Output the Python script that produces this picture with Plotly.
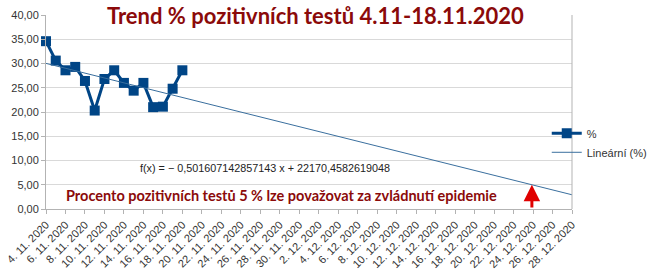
import plotly.graph_objects as go
import pandas as pd

# ---- data ----
dates = pd.date_range("2020-11-04", "2020-11-18", freq="D")
pct = [34.6, 30.6, 28.6, 29.3, 26.4, 20.3, 26.8, 28.6, 26.0, 24.4, 26.0, 21.0, 21.1, 24.8, 28.6]
trend_slope = -0.501607142857143
trend_intercept = 22170.4582619048
axis_start = "2020-11-04"
axis_end = "2020-12-28"
tick_dates = pd.date_range(axis_start, axis_end, freq="2D")
tick_text = [f"{d.day}. {d.month}. {d.year}" for d in tick_dates]
y_ticks = [0, 5, 10, 15, 20, 25, 30, 35, 40]
goal_pct = 5

title_text = "Trend % pozitivních testů 4.11-18.11.2020"
formula_text = "f(x) = − 0,501607142857143 x + 22170,4582619048"
note_text = "Procento pozitivních testů 5 % lze považovat za zvládnutí epidemie"

# trend line over whole axis (LibreOffice date serial)
trend_dates = pd.date_range(axis_start, axis_end, freq="D")
epoch = pd.Timestamp("1899-12-30")
serial = [(d - epoch).days for d in trend_dates]
trend_vals = [trend_slope * s + trend_intercept for s in serial]
goal_serial = (goal_pct - trend_intercept) / trend_slope
goal_date = epoch + pd.Timedelta(days=goal_serial)

BLUE = "#004586"
RED_TXT = "#8b0a0a"

fig = go.Figure()
fig.add_trace(go.Scatter(
    x=dates, y=pct, name="%", mode="lines+markers",
    line=dict(color=BLUE, width=3),
    marker=dict(symbol="square", size=10, color=BLUE),
    cliponaxis=False,
))
fig.add_trace(go.Scatter(
    x=trend_dates, y=trend_vals, name="Lineární (%)", mode="lines",
    line=dict(color="#3a6f9e", width=1),
))

fig.add_annotation(x=0.513, y=1.0, xref="paper", yref="paper", xanchor="center", yanchor="middle",
                   text="<b>" + title_text + "</b>", showarrow=False,
                   font=dict(family="Lato", size=22, color=RED_TXT))
fig.add_annotation(x=0.416, y=0.21, xref="paper", yref="paper", xanchor="center", yanchor="middle",
                   text=formula_text, showarrow=False,
                   font=dict(family="Liberation Sans", size=10.8, color="#222"))
fig.add_annotation(x=0.034, y=0.072, xref="paper", yref="paper", xanchor="left", yanchor="middle",
                   text="<b>" + note_text + "</b>", showarrow=False,
                   font=dict(family="Lato", size=14.5, color=RED_TXT))
fig.add_annotation(x=goal_date, y=goal_pct, ax=goal_date, ay=0, axref="x", ayref="y",
                   xref="x", yref="y", showarrow=True, arrowhead=2, arrowsize=1.1,
                   arrowwidth=3, arrowcolor="#e00000", text="")

fig.add_shape(type="line", xref="paper", yref="paper", x0=1, x1=1, y0=0, y1=1,
              line=dict(color="#b3b3b3", width=1))

fig.update_layout(
    width=650, height=276,
    margin=dict(l=46, r=78, t=15, b=67, autoexpand=False),
    paper_bgcolor="white", plot_bgcolor="white",
    separators=", ",
    showlegend=True,
    legend=dict(x=0.952, y=0.465, xanchor="left", yanchor="top",
                font=dict(family="Liberation Sans", size=11, color="#333"),
                bgcolor="rgba(0,0,0,0)", tracegroupgap=0, itemwidth=30),
)
fig.update_xaxes(
    type="date", range=[axis_start, axis_end], automargin=False,
    tickvals=tick_dates, ticktext=tick_text, tickangle=-45,
    tickfont=dict(family="Liberation Sans", size=11, color="#333"),
    ticks="outside", ticklen=4, tickcolor="#b3b3b3",
    showgrid=False, showline=True, linecolor="#b3b3b3", zeroline=False,
)
fig.update_yaxes(
    range=[0, 40], tickvals=y_ticks, tickformat=".2f", automargin=False,
    tickfont=dict(family="Liberation Sans", size=11, color="#333"),
    ticks="outside", ticklen=4, tickcolor="#b3b3b3",
    showgrid=True, gridcolor="#d9d9d9", showline=True, linecolor="#b3b3b3", zeroline=False,
)
fig.write_html("out.html")
